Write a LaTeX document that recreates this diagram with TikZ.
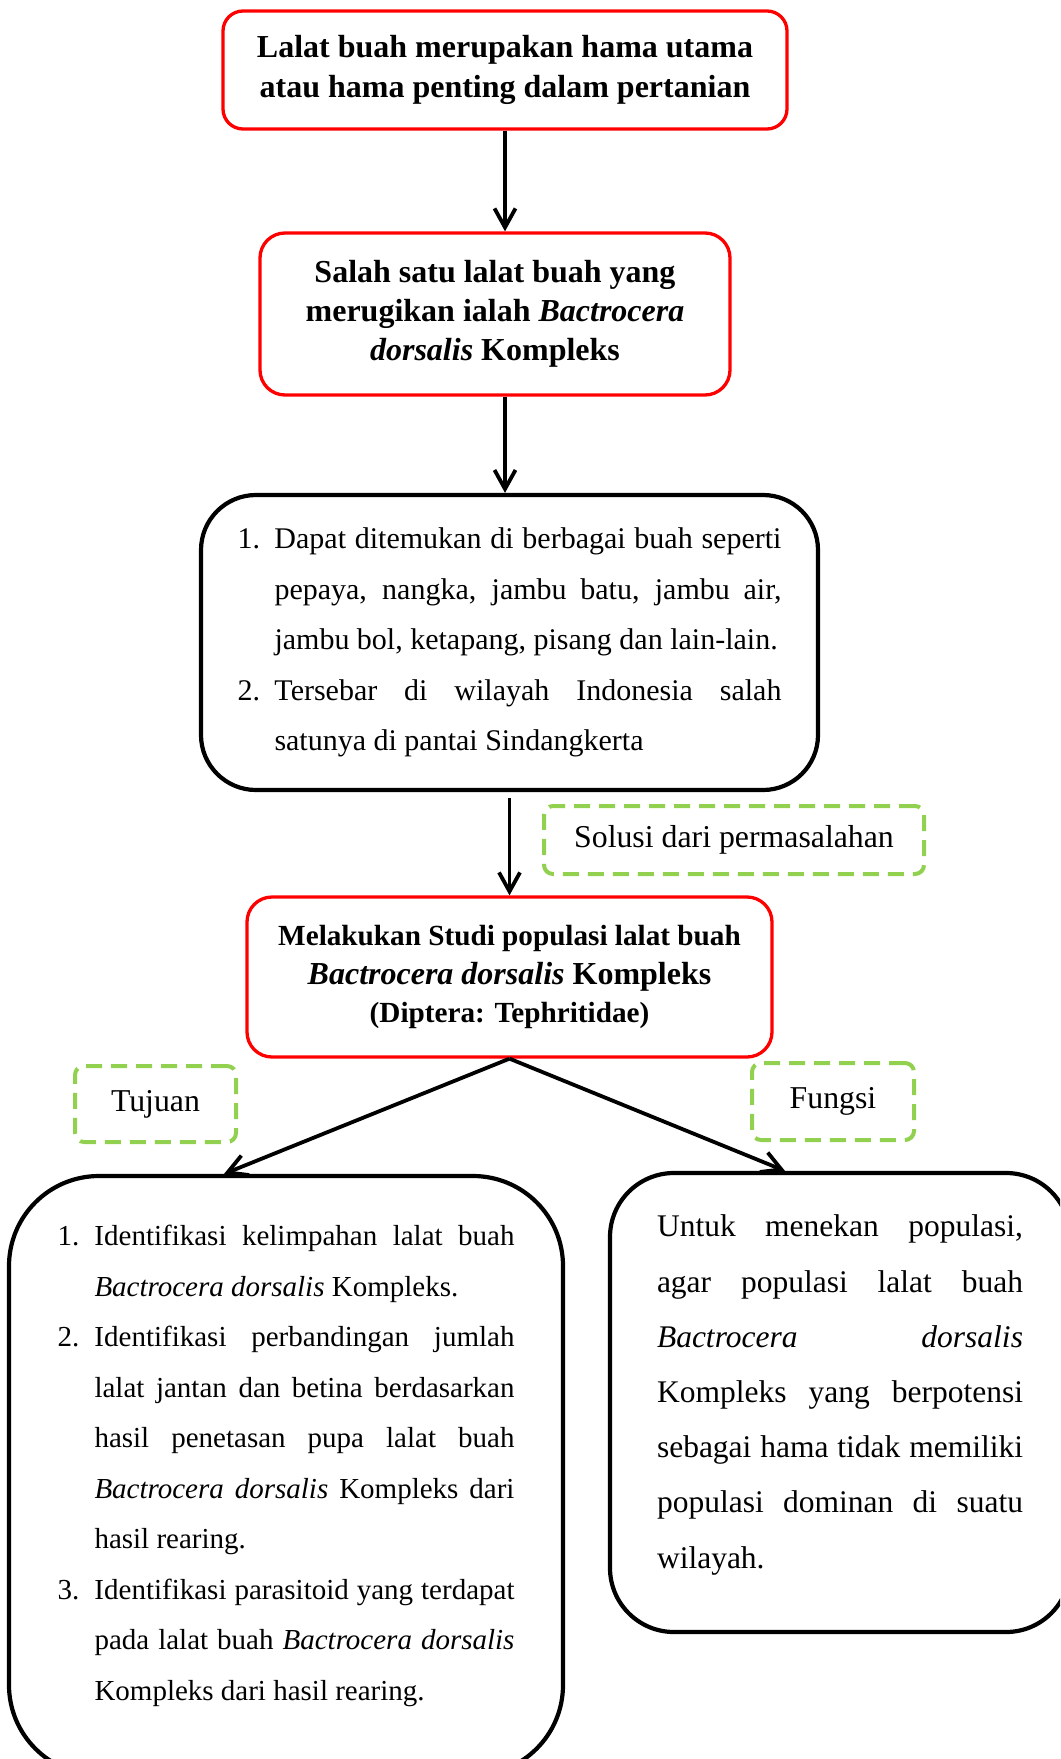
\documentclass[tikz,border=0pt]{standalone}
\usepackage{fontspec}
\setmainfont{Liberation Serif}
\usetikzlibrary{arrows.meta}
\definecolor{merah}{RGB}{255,0,0}
\definecolor{hijau}{RGB}{146,208,80}
\hyphenpenalty=10000
\exhyphenpenalty=10000
\newcommand{\butir}[2]{\par\noindent\hangindent=18.5pt\hangafter=1\makebox[18.5pt][l]{#1}#2\par}
\tikzset{
  kotakmerah/.style={draw=merah, line width=1.65pt, rounded corners=10pt, align=center,
    inner sep=0pt, font=\bfseries\fontsize{16}{19.65}\selectfont},
  kotakhitam/.style={draw, line width=2.1pt, inner sep=0pt, align=justify},
  ket/.style={draw=hijau, line width=2pt, dash pattern=on 8pt off 4.5pt,
    rounded corners=4.5pt, inner sep=0pt, font=\fontsize{15.9}{19}\selectfont},
  panah/.style={line width=1.9pt, -{Straight Barb[length=9.5pt,width=10.5pt]}}
}
\begin{document}
\begin{tikzpicture}[x=0.5pt, y=-0.5pt]
  \clip (0,0) rectangle (1060,1759);
  % kotak utama
  \node[kotakmerah, minimum width=282pt, minimum height=59pt] (masalah) at (505,70)
    {Lalat buah merupakan hama utama\\atau hama penting dalam pertanian};
  \node[kotakmerah, rounded corners=12.5pt, minimum width=235pt, minimum height=81pt] (lalat) at (495,314)
    {Salah satu lalat buah yang\\merugikan ialah \textit{Bactrocera}\\\textit{dorsalis} Kompleks};
  \node[kotakhitam, rounded corners=27.5pt, minimum width=308.5pt, minimum height=147.5pt,
    text width=272pt, font=\fontsize{15}{25.25}\selectfont] (sebaran) at (509.5,642.5)
    {\butir{1.}{Dapat ditemukan di berbagai buah seperti\linebreak pepaya, nangka, jambu batu, jambu air,\linebreak jambu bol, ketapang, pisang dan lain-lain.}%
     \butir{2.}{Tersebar di wilayah Indonesia salah\linebreak satunya di pantai Sindangkerta\rule[-18pt]{0pt}{0pt}}};
  \node[kotakmerah, rounded corners=12.5pt, font=\bfseries\fontsize{14.6}{19.35}\selectfont,
    minimum width=262.5pt, minimum height=80pt] (studi) at (509.5,977)
    {Melakukan Studi populasi lalat buah\\{\fontsize{16}{19.35}\selectfont\textit{Bactrocera dorsalis} Kompleks}\\(Diptera: Tephritidae)};
  \node[kotakhitam, rounded corners=45pt, minimum width=277pt, minimum height=299.5pt,
    text width=228.5pt, font=\fontsize{14.5}{25.25}\selectfont] (tujuan) at (286,1475.5)
    {\butir{1.}{Identifikasi kelimpahan lalat buah\linebreak \textit{Bactrocera dorsalis} Kompleks.}%
     \butir{2.}{Identifikasi perbandingan jumlah\linebreak lalat jantan dan betina berdasarkan\linebreak hasil penetasan pupa lalat buah\linebreak \textit{Bactrocera dorsalis} Kompleks dari\linebreak hasil rearing.}%
     \butir{3.}{Identifikasi parasitoid yang terdapat\linebreak pada lalat buah \textit{Bactrocera dorsalis}\linebreak Kompleks dari hasil rearing.\rule[-28pt]{0pt}{0pt}}};
  \node[kotakhitam, rounded corners=32pt, minimum width=230pt, minimum height=229.5pt,
    text width=183pt, font=\fontsize{15.75}{27.6}\selectfont] (fungsi) at (840,1402.5)
    {Untuk menekan populasi,\linebreak agar populasi lalat buah\linebreak \textit{Bactrocera dorsalis}\linebreak Kompleks yang berpotensi\linebreak sebagai hama tidak memiliki\linebreak populasi dominan di suatu\linebreak wilayah.\rule[-11pt]{0pt}{0pt}};
  % keterangan
  \node[ket, minimum width=190pt, minimum height=34pt] (lblsolusi) at (734,840) {Solusi dari permasalahan};
  \node[ket, minimum width=80.5pt, minimum height=38pt] (lbltujuan) at (155.5,1104) {Tujuan};
  \node[ket, minimum width=81pt, minimum height=38.5pt] (lblfungsi) at (833,1101.5) {Fungsi};
  % panah
  \draw[panah] (masalah.south) -- (masalah.south |- lalat.north);
  \draw[panah] (lalat.south -| masalah.south) -- (sebaran.north -| masalah.south);
  \draw[panah] ([yshift=-3pt]sebaran.south) -- (studi.north);
  \draw[panah] (studi.south) -- ([xshift=-31pt]tujuan.north);
  \draw[panah] (studi.south) -- ([xshift=-27.5pt]fungsi.north);
\end{tikzpicture}
\end{document}
